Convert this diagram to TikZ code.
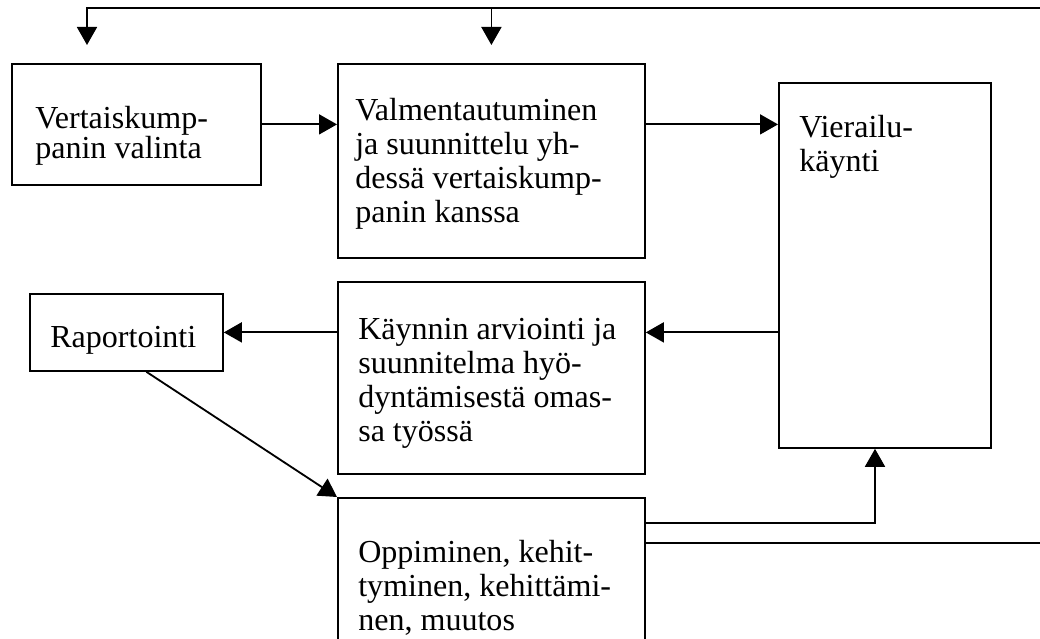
\documentclass[tikz,border=0pt]{standalone}
\usepackage{fontspec}
\setmainfont{Liberation Serif}
\usetikzlibrary{arrows.meta}
\tikzset{
	laatikko/.style={draw, line width=1.3pt, anchor=north west, inner sep=0pt},
	teksti/.style={anchor=north west, inner sep=0pt, align=left, font=\fontsize{22.8}{24.1}\selectfont},
	viiva/.style={line width=1.3pt},
	nuoli/.style={viiva, -{Triangle[width=0.5cm,length=0.45cm]}}
}
\begin{document}
\begin{tikzpicture}
			\useasboundingbox (0,0) rectangle (26,15.975);
			\clip (0,0) rectangle (26,15.975);
			\coordinate (ylaoikea) at (26,15.775);
			\coordinate (kulma) at (2.175,15.775);
			\coordinate (haara) at (21.875,2.9);
			\coordinate (alaoikea) at (26,2.4);
			\node[laatikko, minimum width=6.225cm, minimum height=3.025cm] (valinta) at (0.275,14.4) {};
			\node[laatikko, minimum width=7.675cm, minimum height=4.85cm] (valmennus) at (8.425,14.4) {};
			\node[laatikko, minimum width=5.3cm, minimum height=9.125cm] (vierailu) at (19.45,13.925) {};
			\node[laatikko, minimum width=4.825cm, minimum height=1.925cm] (raportointi) at (0.725,8.65) {};
			\node[laatikko, minimum width=7.675cm, minimum height=4.8cm] (arviointi) at (8.425,8.95) {};
			\node[laatikko, minimum width=7.675cm, minimum height=4.2cm] (oppiminen) at (8.425,3.55) {};
			\node[teksti, font=\fontsize{22.8}{21}\selectfont] (valinta-teksti) at ([shift={(0.6,-1.075)}]valinta.north west) {Vertaiskump-\\panin valinta};
			\node[teksti] (valmennus-teksti) at ([shift={(0.45,-0.875)}]valmennus.north west) {Valmentautuminen\\ja suunnittelu yh-\\dessä vertaiskump-\\panin kanssa};
			\node[teksti] (vierailu-teksti) at ([shift={(0.525,-0.825)}]vierailu.north west) {Vierailu-\\käynti};
			\node[teksti] (raportointi-teksti) at ([shift={(0.525,-0.825)}]raportointi.north west) {Raportointi};
			\node[teksti] (arviointi-teksti) at ([shift={(0.525,-0.925)}]arviointi.north west) {Käynnin arviointi ja\\suunnitelma hyö-\\dyntämisestä omas-\\sa työssä};
			\node[teksti] (oppiminen-teksti) at ([shift={(0.525,-1.075)}]oppiminen.north west) {Oppiminen, kehit-\\tyminen, kehittämi-\\nen, muutos};
			\draw[nuoli, shorten >=0.45cm] (ylaoikea) -- (kulma) -- (kulma |- valinta.north);
			\draw[nuoli, shorten >=0.45cm] (valmennus.north |- ylaoikea) -- (valmennus.north);
			\draw[nuoli] (valinta.east) -- (valinta.east -| valmennus.west);
			\draw[nuoli] (valmennus.east |- valinta.east) -- (vierailu.west |- valinta.east);
			\draw[nuoli] (vierailu.west |- raportointi.east) -- (arviointi.east |- raportointi.east);
			\draw[nuoli] (arviointi.west |- raportointi.east) -- (raportointi.east);
			\draw[nuoli] ([xshift=0.5cm]raportointi.south) -- (oppiminen.north west);
			\draw[nuoli] (oppiminen.east |- haara) -- (haara) -- (haara |- vierailu.south);
			\draw[viiva] (oppiminen.east |- alaoikea) -- (alaoikea);
		\end{tikzpicture}
\end{document}
